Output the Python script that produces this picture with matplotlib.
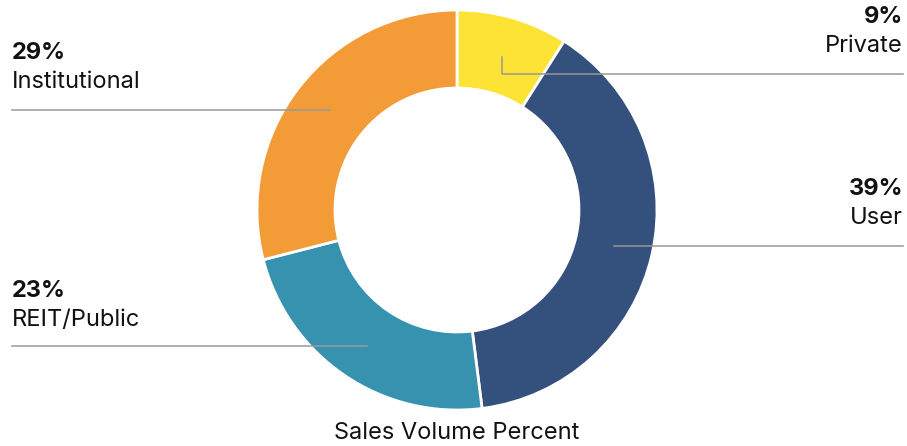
import matplotlib

matplotlib.use("Agg")
import matplotlib.pyplot as plt

# Sales volume share by buyer type (clockwise from 12 o'clock)
labels = ["Private", "User", "REIT/Public", "Institutional"]
shares = [9, 39, 23, 29]
colors = ["#FDE334", "#34507D", "#3792AF", "#F39B36"]

W, H = 907, 446
plt.rcParams["font.family"] = ["Inter", "DejaVu Sans"]

fig = plt.figure(figsize=(W / 100, H / 100), dpi=100)
ax = fig.add_axes([0, 0, 1, 1])


def py(y):
    # image pixel row -> data y
    return H - y


cx, cy, r = 457, py(210), 200
ax.pie(
    shares,
    colors=colors,
    startangle=90,
    counterclock=False,
    center=(cx, cy),
    radius=r,
    wedgeprops=dict(width=0.39 * r, edgecolor="white", linewidth=2),
)
ax.set_xlim(0, W)
ax.set_ylim(0, H)
ax.set_aspect("equal")
ax.axis("off")

line_kw = dict(color="#999999", lw=1.1, zorder=5)
# leader lines
ax.plot([12, 330], [py(110), py(110)], **line_kw)
ax.plot([502, 502, 903], [py(57), py(74), py(74)], **line_kw)
ax.plot([614, 903], [py(246), py(246)], **line_kw)
ax.plot([12, 367], [py(346), py(346)], **line_kw)

fs = 17
label_pos = {
    "Institutional": (12, 53, "left"),
    "Private": (903, 17, "right"),
    "User": (903, 189, "right"),
    "REIT/Public": (12, 291, "left"),
}
for name, val in zip(labels, shares):
    x, y, ha = label_pos[name]
    ax.text(x, py(y), f"{val}%", ha=ha, va="center", fontsize=fs,
            fontweight="bold", color="#111111")
    ax.text(x, py(y + 29), name, ha=ha, va="center", fontsize=fs,
            color="#111111")

ax.text(cx, py(433), "Sales Volume Percent", ha="center", va="center",
        fontsize=fs, color="#111111")

fig.savefig("out.png", dpi=100)
